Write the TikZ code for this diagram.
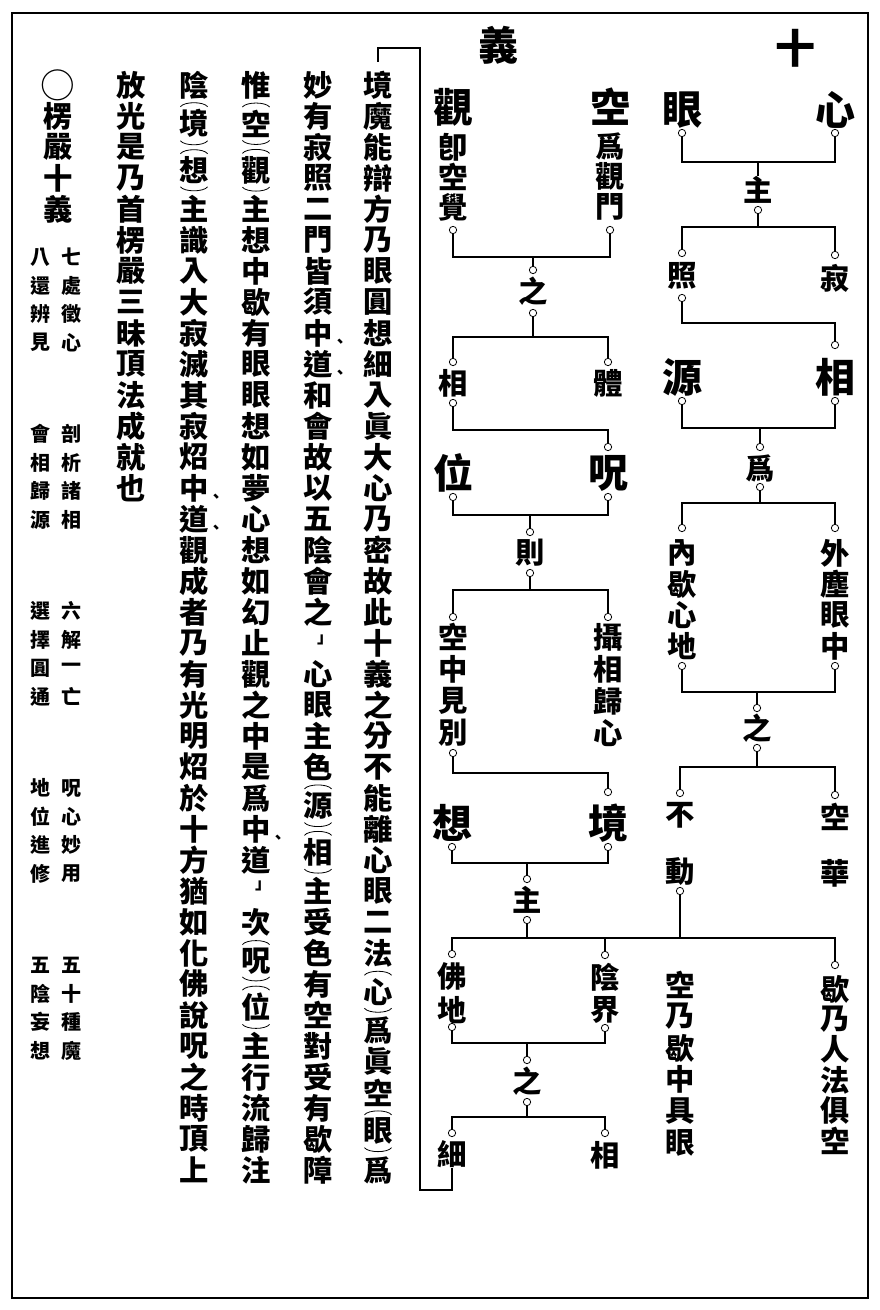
\documentclass[tikz,border=0pt]{standalone}
\usepackage{fontspec}
\newfontfamily\cjk{Noto Sans CJK TC}
\tikzset{
  big/.style={font=\cjk\bfseries\fontsize{30}{30}\selectfont, inner sep=0pt},
  mid/.style={font=\cjk\bfseries\fontsize{22}{22}\selectfont, inner sep=0pt},
  note/.style={font=\cjk\bfseries\fontsize{15}{15}\selectfont, inner sep=0pt},
  punct/.style={font=\cjk\bfseries\fontsize{12}{12}\selectfont, inner sep=0pt},
  dot/.style={circle, draw, fill=white, minimum size=5.5pt, inner sep=0pt, line width=0.6pt},
  link/.style={line width=0.9pt},
  paren/.style={line width=0.6pt},
}
% one vertical column of characters
\newcommand\vcol[6][mid]{%
  \foreach \ch [count=\i] in {#6} {
    \node[#1] (#2-\i) at (#3,{#4+(\i-1)*#5}) {\ch};
  }
}
% character between vertical parentheses
\newcommand\pchar[4]{%
  \node[mid] (#1) at (#2,#3) {#4};
  \draw[paren] ([xshift=1pt,yshift=2pt]#1.north west) .. controls +(3pt,4pt) and +(-3pt,4pt) .. ([xshift=-1pt,yshift=2pt]#1.north east);
  \draw[paren] ([xshift=1pt,yshift=-2pt]#1.south west) .. controls +(3pt,-4pt) and +(-3pt,-4pt) .. ([xshift=-1pt,yshift=-2pt]#1.south east);
}
\begin{document}
\begin{tikzpicture}[x=0.75pt, y=-0.75pt]
  \useasboundingbox (0,0) rectangle (879,1310);
  \draw[line width=1.6pt] (12,13) rectangle (868,1298);

  % titles
  \node[big] (shi) at (795,48) {十};
  \node[big] (yi) at (498,45) {義};

  % right tree
  \node[big] (xin) at (835,110) {心};
  \node[dot] (xin-o) at (835,133) {};
  \node[big] (yan) at (682,110) {眼};
  \node[dot] (yan-o) at (682,133) {};
  \node[mid] (zhu1) at (758,190) {主};
  \node[dot] (zhu1-o) at (758,210) {};
  \node[dot] (zhao-t) at (682,253) {};
  \node[mid] (zhao) at (682,276) {照};
  \node[dot] (zhao-o) at (682,298) {};
  \node[dot] (ji-t) at (835,255) {};
  \node[mid] (ji) at (835,278) {寂};
  \node[dot] (xiang1-t) at (835,345) {};
  \node[big] (xiang1) at (835,377) {相};
  \node[dot] (xiang1-o) at (835,401) {};
  \node[big] (yuan) at (682,377) {源};
  \node[dot] (yuan-o) at (682,401) {};
  \node[dot] (wei1-t) at (760,447) {};
  \node[mid] (wei1) at (760,468) {爲};
  \node[dot] (wei1-o) at (760,487) {};
  \node[dot] (nei-t) at (682,528) {};
  \vcol{nei}{682}{553}{31}{內,歇,心,地}
  \node[dot] (nei-o) at (682,666) {};
  \node[dot] (wai-t) at (835,528) {};
  \vcol{wai}{835}{553}{31}{外,塵,眼,中}
  \node[dot] (wai-o) at (835,666) {};
  \node[dot] (zhi1-t) at (757,708) {};
  \node[mid] (zhi1) at (757,728) {之};
  \node[dot] (zhi1-o) at (757,748) {};
  \node[dot] (bu-t) at (680,793) {};
  \node[mid] (bu) at (680,815) {不};
  \node[mid] (dong) at (680,872) {動};
  \node[dot] (dong-o) at (680,891) {};
  \node[dot] (kong1-t) at (835,795) {};
  \node[mid] (kong1) at (835,817) {空};
  \node[mid] (hua) at (835,873) {華};

  \coordinate (b1) at (758,162);
  \coordinate (b2) at (758,227);
  \coordinate (b3) at (682,323);
  \coordinate (b4) at (760,428);
  \coordinate (b5) at (760,503);
  \coordinate (b6) at (757,692);
  \coordinate (b7) at (757,767);
  \begin{scope}[link]
    \draw (xin-o) |- (b1) -| (yan-o);
    \draw (b1) -- (zhu1);
    \draw (zhu1-o) -- (b2);
    \draw (zhao-t) |- (b2) -| (ji-t);
    \draw (zhao-o) -- (b3) -| (xiang1-t);
    \draw (xiang1-o) |- (b4) -| (yuan-o);
    \draw (b4) -- (wei1-t);
    \draw (wei1-o) -- (b5);
    \draw (nei-t) |- (b5) -| (wai-t);
    \draw (nei-o) |- (b6) -| (wai-o);
    \draw (b6) -- (zhi1-t);
    \draw (zhi1-o) -- (b7);
    \draw (bu-t) |- (b7) -| (kong1-t);
  \end{scope}

  % left tree
  \node[big] (guan) at (453,107) {觀};
  \vcol{guan}{453}{147}{30}{卽,空,覺}
  \node[dot] (guan-o) at (453,230) {};
  \node[big] (kong2) at (610,107) {空};
  \vcol{kong2}{610}{146}{30.5}{爲,觀,門}
  \node[dot] (kong2-o) at (610,230) {};
  \node[dot] (zhi2-t) at (533,270) {};
  \node[mid] (zhi2) at (533,291) {之};
  \node[dot] (zhi2-o) at (533,313) {};
  \node[dot] (xiang2-t) at (453,362) {};
  \node[mid] (xiang2) at (453,383) {相};
  \node[dot] (xiang2-o) at (453,403) {};
  \node[dot] (ti-t) at (608,362) {};
  \node[mid] (ti) at (608,383) {體};
  \node[dot] (zhou-t) at (608,447) {};
  \node[big] (wei2) at (453,473) {位};
  \node[dot] (wei2-o) at (453,497) {};
  \node[big] (zhou) at (608,473) {呪};
  \node[dot] (zhou-o) at (608,497) {};
  \node[dot] (ze-t) at (530,532) {};
  \node[mid] (ze) at (530,553) {則};
  \node[dot] (ze-o) at (530,573) {};
  \node[dot] (kzj-t) at (453,617) {};
  \vcol{kzj}{453}{637}{32}{空,中,見,別}
  \node[dot] (kzj-o) at (453,753) {};
  \node[dot] (sxg-t) at (608,617) {};
  \vcol{sxg}{608}{637}{32}{攝,相,歸,心}
  \node[dot] (jing-t) at (608,792) {};
  \node[big] (xiang3) at (452,823) {想};
  \node[dot] (xiang3-o) at (452,847) {};
  \node[big] (jing) at (608,823) {境};
  \node[dot] (jing-o) at (608,847) {};
  \node[dot] (zhu2-t) at (527,879) {};
  \node[mid] (zhu2) at (527,900) {主};
  \node[dot] (zhu2-o) at (527,920) {};
  \node[dot] (fo-t) at (452,954) {};
  \vcol{fo}{452}{977}{33}{佛,地}
  \node[dot] (fo-o) at (452,1027) {};
  \node[dot] (yin-t) at (605,955) {};
  \vcol{yin}{605}{977}{33}{陰,界}
  \node[dot] (yin-o) at (605,1028) {};
  \node[dot] (xie-t) at (835,965) {};
  \vcol{xie}{835}{989}{30.4}{歇,乃,人,法,俱,空}
  \vcol{kn}{680}{985}{31.6}{空,乃,歇,中,具,眼}
  \node[dot] (zhi3-t) at (527,1060) {};
  \node[mid] (zhi3) at (527,1081) {之};
  \node[dot] (zhi3-o) at (527,1102) {};
  \node[dot] (xi-t) at (452,1133) {};
  \node[mid] (xi) at (452,1154) {細};
  \node[dot] (xiang4-t) at (605,1133) {};
  \node[mid] (xiang4) at (605,1155) {相};

  \coordinate (b9) at (533,257);
  \coordinate (b10) at (533,337);
  \coordinate (b11) at (453,430);
  \coordinate (b12) at (530,515);
  \coordinate (b13) at (530,590);
  \coordinate (b14) at (453,773);
  \coordinate (b15) at (527,863);
  \coordinate (b16) at (527,938);
  \coordinate (b17) at (527,1043);
  \coordinate (b18) at (527,1117);
  \coordinate (br-bot) at (420,1190);
  \coordinate (br-top) at (420,48);
  \begin{scope}[link]
    \draw (guan-o) |- (b9) -| (kong2-o);
    \draw (b9) -- (zhi2-t);
    \draw (zhi2-o) -- (b10);
    \draw (xiang2-t) |- (b10) -| (ti-t);
    \draw (xiang2-o) -- (b11) -| (zhou-t);
    \draw (wei2-o) |- (b12) -| (zhou-o);
    \draw (b12) -- (ze-t);
    \draw (ze-o) -- (b13);
    \draw (kzj-t) |- (b13) -| (sxg-t);
    \draw (kzj-o) -- (b14) -| (jing-t);
    \draw (xiang3-o) |- (b15) -| (jing-o);
    \draw (b15) -- (zhu2-t);
    \draw (zhu2-o) -- (b16);
    \draw (dong-o) -- (dong-o |- b16);
    \draw (fo-t) |- (b16) -| (xie-t);
    \draw (yin-t) -- (yin-t |- b16);
    \draw (fo-o) |- (b17) -| (yin-o);
    \draw (b17) -- (zhi3-t);
    \draw (zhi3-o) -- (b18);
    \draw (xi-t) |- (b18) -| (xiang4-t);
    % bracket round the commentary
    \draw (xi) |- (br-bot) -- (br-top) -- ++(-42,0) -- ++(0,14);
  \end{scope}

  % commentary, columns right to left
  \vcol{ca}{378}{85}{31}{境,魔,能,辯,方,乃,眼,圓,想,細,入,眞,大,心,乃,密,故,此,十,義,之,分,不,能,離,心,眼,二,法}
  \pchar{ca-p1}{378}{991.75}{心}
  \vcol{cb}{378}{1030.5}{31}{爲,眞,空}
  \pchar{ca-p2}{378}{1131.25}{眼}
  \node[mid] (cc) at (378,1170) {爲};

  \vcol{da}{318}{85}{31}{妙,有,寂,照,二,門,皆,須,中,道,和,會,故,以,五,陰,會,之}
  \node[punct] (da-d1) at (340,343) {、};
  \node[punct] (da-d2) at (340,374) {、};
  \node[punct] (da-q) at (325,640) {」};
  \vcol{db}{318}{674}{31}{心,眼,主,色}
  \pchar{dp1}{318}{805.75}{源}
  \pchar{dp2}{318}{852.25}{相}
  \vcol{dc}{318}{891}{31}{主,受,色,有,空,對,受,有,歇,障}

  \node[mid] (ea) at (256,85) {惟};
  \pchar{ep1}{256}{123.75}{空}
  \pchar{ep2}{256}{170.25}{觀}
  \vcol{eb}{256}{209}{31}{主,想,中,歇,有,眼,眼,想,如,夢,心,想,如,幻,止,觀,之,中,是,爲,中,道}
  \node[punct] (eb-d) at (278,839) {、};
  \node[punct] (eb-q) at (263,886) {」};
  \node[mid] (ec) at (256,922) {次};
  \pchar{ep3}{256}{960.75}{呪}
  \pchar{ep4}{256}{1007.25}{位}
  \vcol{ed}{256}{1046}{31}{主,行,流,歸,注}

  \node[mid] (fa) at (194,85) {陰};
  \pchar{fp1}{194}{123.75}{境}
  \pchar{fp2}{194}{170.25}{想}
  \vcol{fb}{194}{209}{31}{主,識,入,大,寂,滅,其,寂,炤,中,道,觀,成,者,乃,有,光,明,炤,於,十,方,猶,如,化,佛,說,呪,之,時,頂,上}
  \node[punct] (fb-d1) at (216,498) {、};
  \node[punct] (fb-d2) at (216,529) {、};

  \vcol{ga}{131}{85}{31}{放,光,是,乃,首,楞,嚴,三,昧,頂,法,成,就,也}

  \node[mid, font=\cjk\fontsize{26}{26}\selectfont] (ring) at (58,85) {○};
  \vcol{ha}{58}{116}{31}{楞,嚴,十,義}

  % the ten headings, two per row
  \foreach \a/\b/\c/\d [count=\k from 0] in {七/處/徵/心, 剖/析/諸/相, 六/解/一/亡, 呪/心/妙/用, 五/十/種/魔} {
    \vcol[note]{nr\k}{71}{257+\k*177}{28.5}{\a,\b,\c,\d}
  }
  \foreach \a/\b/\c/\d [count=\k from 0] in {八/還/辨/見, 會/相/歸/源, 選/擇/圓/通, 地/位/進/修, 五/陰/妄/想} {
    \vcol[note]{nl\k}{41}{257+\k*177}{28.5}{\a,\b,\c,\d}
  }
\end{tikzpicture}
\end{document}
